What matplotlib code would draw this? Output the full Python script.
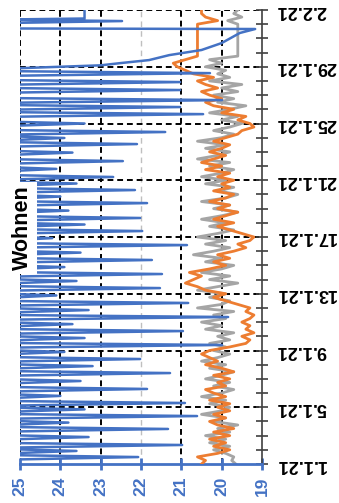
import matplotlib.pyplot as plt
import numpy as np

plt.rcParams['font.family'] = ['Liberation Sans', 'DejaVu Sans']

BLUE = "#4472C4"
ORANGE = "#ED7D31"
GRAY = "#A5A5A5"

# time in days since 1.1.21
# blue: heating spikes (day of minimum, minimum value); above 25 it leaves the plot
spike_days = [0.49, 0.92, 1.34, 1.9, 2.47, 2.92, 3.38, 3.85, 4.30, 4.8, 5.29, 5.85,
              6.41, 6.9, 7.40, 7.9, 8.39, 8.88, 9.37, 9.86, 10.36, 10.85, 11.35, 11.88,
              12.40, 12.9, 13.39, 13.88, 14.38, 14.9, 15.43, 15.92, 16.42, 16.88, 17.34,
              17.86, 18.39, 18.85, 19.31, 19.77, 20.23, 20.8, 21.35, 21.95, 22.55, 22.98,
              23.40, 24.0, 24.66, 25.16, 25.65, 26.36, 26.92, 27.55]
spike_mins = [22.07, 23.6, 20.98, 23.3, 21.33, 23.8, 20.61, 23.4, 20.91, 24.0, 21.85, 23.5,
              21.28, 23.2, 22.02, 23.9, 19.99, 23.4, 20.96, 23.7, 19.84, 23.3, 20.83, 24.1,
              21.53, 23.6, 21.48, 23.9, 21.73, 23.5, 20.86, 24.2, 21.97, 23.4, 22.02,
              23.8, 21.85, 24.0, 22.15, 23.6, 22.69, 24.1, 22.45, 23.7, 22.10, 23.9,
              21.40, 23.4, 20.46, 21.03, 19.99, 21.03, 21.03, 20.29]
# blue: slow cool-down at the end of the month
tail_t = [27.75, 27.9, 28.1, 28.26, 28.47, 28.82, 29.18, 29.67, 30.38, 30.66, 30.7,
          31.07, 31.22, 31.32, 31.4, 32.0]
tail_v = [25.6, 25.0, 23.0, 22.5, 21.8, 21.3, 20.5, 20.0, 19.55, 19.17, 25.6,
          25.6, 22.47, 25.6, 23.4, 23.4]

step_t = np.arange(0, 32.01, 0.25)
gray_v = [19.65, 19.75, 19.7, 19.9, 20.2, 19.8, 20.3, 19.9,
          20.4, 19.8, 20.1, 19.6, 20.2, 19.9, 20.5, 20.0,
          19.8, 20.3, 19.9, 20.5, 20.0, 19.7, 20.2, 19.8,
          20.4, 20.0, 19.7, 20.3, 19.9, 20.5, 20.1, 19.8,
          20.2, 19.9, 20.3, 19.8, 20.1, 19.7, 20.4, 20.0,
          20.5, 19.9, 20.2, 19.7, 20.6, 20.0, 19.8, 20.3,
          19.9, 20.6, 20.1, 19.6, 20.3, 19.8, 20.5, 20.0,
          19.7, 20.4, 20.0, 20.7, 20.2, 19.8, 20.4, 19.9,
          20.6, 20.1, 19.7, 20.3, 19.9, 20.5, 20.0, 19.6,
          20.2, 19.8, 20.5, 19.9, 19.6, 20.1, 19.7, 20.4,
          19.9, 20.5, 20.0, 19.7, 20.3, 19.8, 20.6, 20.1,
          19.8, 20.4, 19.9, 20.6, 20.0, 19.7, 20.2, 19.8,
          19.5, 20.0, 19.6, 20.3, 19.8, 19.4, 20.1, 19.7,
          20.2, 19.6, 20.0, 19.5, 20.3, 19.8, 20.1, 19.9,
          20.4, 20.0, 20.3, 19.6, 19.6, 19.6, 19.6, 19.6,
          19.6, 19.6, 19.6, 19.6, 19.6, 19.85, 19.5, 19.7,
          19.6]
orange_v = [20.5, 20.4, 20.6, 20.1, 19.8, 20.2, 19.9, 20.3,
            19.8, 20.2, 19.7, 20.1, 20.3, 19.9, 20.2, 19.8,
            20.1, 19.8, 20.3, 19.9, 20.2, 20.4, 19.9, 20.1,
            19.8, 20.2, 19.7, 20.0, 20.4, 20.1, 20.3, 20.5,
            20.3, 19.8, 19.4, 19.3, 19.5, 19.2, 19.4, 19.3,
            19.5, 19.3, 19.2, 19.4, 19.3, 19.6, 19.9, 20.2,
            19.9, 20.4, 20.6, 20.9, 20.7, 20.5, 20.8, 20.3,
            19.9, 20.2, 19.8, 20.1, 19.7, 19.4, 19.6, 19.3,
            19.2, 19.5, 19.8, 20.1, 19.7, 20.2, 19.9, 19.6,
            20.1, 19.8, 20.3, 19.9, 19.7, 20.2, 19.8, 20.0,
            19.7, 20.1, 19.8, 20.4, 20.0, 20.5, 20.2, 19.9,
            20.3, 20.0, 19.8, 20.2, 19.9, 19.6, 19.5, 19.2,
            19.3, 19.6, 19.4, 20.0, 19.7, 20.2, 20.4, 20.0,
            20.3, 20.5, 20.1, 20.4, 20.6, 20.2, 20.7, 20.9,
            21.1, 21.2, 20.9, 20.6, 20.6, 20.6, 20.6, 20.6,
            20.6, 20.6, 20.6, 20.6, 20.6, 20.1, 20.4, 20.5,
            20.5]

temp_ticks = [25, 24, 23, 22, 21, 20, 19]
date_pos = [0, 4, 8, 12, 16, 20, 24, 28, 32]
date_labels = ["1.1.21", "5.1.21", "9.1.21", "13.1.21", "17.1.21",
               "21.1.21", "25.1.21", "29.1.21", "2.2.21"]

# blue polyline: off-scale between spikes, thin wedge at each spike
blue_t, blue_v = [0.0], [25.6]
for d, m in zip(spike_days, spike_mins):
    blue_t += [d - 0.2, d, d + 0.15]
    blue_v += [25.6, m, 25.6]
blue_t += tail_t
blue_v += tail_v

fig = plt.figure(figsize=(3.39, 5.03), dpi=100)
ax = fig.add_axes([20 / 339, 39 / 503, 242 / 339, 454 / 503])

for v in [25, 24, 23, 21, 20]:
    ax.axvline(v, color="black", lw=1.4, ls=(0, (3, 2)), zorder=1)
ax.axvline(22, color="#BFBFBF", lw=1.0, ls=(0, (4, 3)), zorder=1)
for d in date_pos[1:]:
    ax.axhline(d, color="black", lw=1.4, ls=(0, (3, 2)), zorder=1)

ax.plot(gray_v, step_t, color=GRAY, lw=2, zorder=2)
ax.plot(orange_v, step_t, color=ORANGE, lw=2, zorder=3)
ax.plot(blue_v, blue_t, color=BLUE, lw=1.8, zorder=4)

ax.set_xlim(25, 19)
ax.set_ylim(0, 32)

for s in ["left", "top"]:
    ax.spines[s].set_visible(False)
ax.spines["bottom"].set_color(BLUE)
ax.spines["bottom"].set_linewidth(2)
ax.spines["right"].set_color("#404040")
ax.spines["right"].set_linewidth(1.2)

ax.set_xticks(temp_ticks)
ax.set_xticklabels([str(t) for t in temp_ticks], rotation=90, color=BLUE,
                   fontsize=12.5, fontweight="bold")
ax.tick_params(axis="x", direction="inout", length=8, width=2, color=BLUE, pad=5)

ax.yaxis.tick_right()
ax.set_yticks(date_pos)
ax.set_yticks(np.arange(0, 33, 1), minor=True)
ax.set_yticklabels(date_labels, rotation=180, fontsize=13, fontweight="bold",
                   va="center")
ax.tick_params(axis="y", which="both", direction="inout", length=8, width=1.2,
               color="#404040", pad=6)

fig.text(22 / 339, 1 - 228 / 503, "Wohnen", rotation=90, fontsize=15.5,
         fontweight="bold", ha="center", va="center",
         bbox=dict(facecolor="white", edgecolor="none", pad=3))

fig.savefig("out.png", dpi=100)
